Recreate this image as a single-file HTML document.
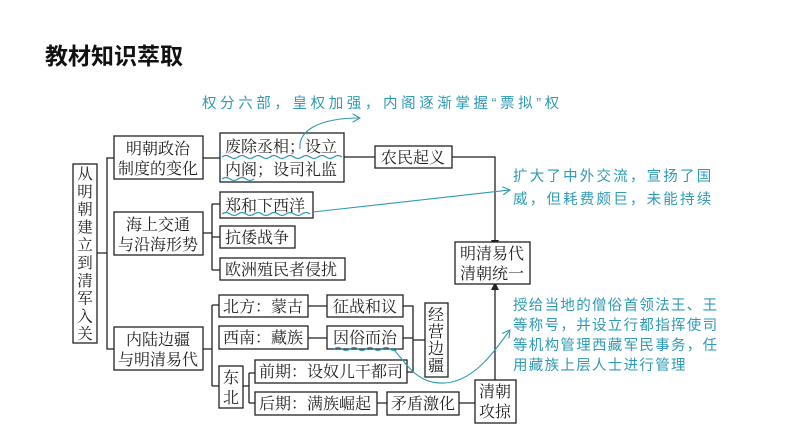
<!DOCTYPE html>
<html><head><meta charset="utf-8"><style>
html,body{margin:0;padding:0;background:#fff;}
svg{display:block;}
text{font-family:"Liberation Serif","Noto Serif CJK SC",serif;}
.b{fill:#fff;stroke:#222;stroke-width:1.3;}
.l{stroke:#222;stroke-width:1.3;fill:none;}
.t{font-size:16px;fill:#222;}
.v{font-size:15.5px;fill:#222;}
.c{font-family:"Liberation Sans","Noto Sans CJK SC",sans-serif;font-size:14.5px;fill:#2e9bb5;letter-spacing:1.3px;}
.w{stroke:#2e9bb5;stroke-width:1.1;fill:none;}
</style></head><body>
<svg width="794" height="447" viewBox="0 0 794 447" xmlns="http://www.w3.org/2000/svg">
<defs><marker id="a" markerWidth="8" markerHeight="8" refX="7" refY="4" orient="auto"><path d="M0,0 L7,4 L0,8" fill="none" stroke="#2e9bb5" stroke-width="1"/></marker></defs>
<text x="45" y="64" style="font-family:'Liberation Sans','Noto Sans CJK SC',sans-serif;font-size:23px;font-weight:bold;fill:#111">教材知识萃取</text>

<path class="l" d="M97 253H107M114 158H107V349H114M203 158H220M203 233H212M212 204V270M212 204H220M212 237H220M212 270H220M203 349H212M212 305V386M212 305H219M212 386H219M344 157H375M452 157H495V240"/>
<path class="l" d="M308 306H327M308 338H327M403 306H413V372H407M403 338H413M413 340H425M243 386H249M249 373V403M249 373H255M249 403H255M377 403H387M459 403H475M495 380V286"/>
<path d="M491 240 L495 248 L499 240Z" fill="#222"/>
<path d="M491 290 L495 282 L499 290Z" fill="#222"/>

<rect class="b" x="73" y="164" width="24" height="179"/>
<text class="v" x="85" y="179" text-anchor="middle">从</text><text class="v" x="85" y="196.8" text-anchor="middle">明</text><text class="v" x="85" y="214.6" text-anchor="middle">朝</text><text class="v" x="85" y="232.4" text-anchor="middle">建</text><text class="v" x="85" y="250.2" text-anchor="middle">立</text><text class="v" x="85" y="268" text-anchor="middle">到</text><text class="v" x="85" y="285.8" text-anchor="middle">清</text><text class="v" x="85" y="303.6" text-anchor="middle">军</text><text class="v" x="85" y="321.4" text-anchor="middle">入</text><text class="v" x="85" y="339.2" text-anchor="middle">关</text>

<rect class="b" x="114" y="136" width="89" height="43"/><text class="t" x="158" y="154" text-anchor="middle">明朝政治</text><text class="t" x="158" y="174" text-anchor="middle">制度的变化</text>
<rect class="b" x="220" y="133" width="124" height="49"/><text class="t" x="225" y="152">废除丞相；设立</text><text class="t" x="225" y="175">内阁；设司礼监</text>
<rect class="b" x="375" y="146" width="77" height="22"/><text class="t" x="413" y="163" text-anchor="middle">农民起义</text>
<rect class="b" x="455" y="242" width="75" height="42"/><text class="t" x="492" y="259" text-anchor="middle">明清易代</text><text class="t" x="492" y="279" text-anchor="middle">清朝统一</text>
<rect class="b" x="114" y="212" width="89" height="43"/><text class="t" x="158" y="230" text-anchor="middle">海上交通</text><text class="t" x="158" y="250" text-anchor="middle">与沿海形势</text>
<rect class="b" x="220" y="192" width="93" height="26"/><text class="t" x="225" y="211">郑和下西洋</text>
<rect class="b" x="220" y="226" width="75" height="22"/><text class="t" x="225" y="243">抗倭战争</text>
<rect class="b" x="220" y="258" width="125" height="22"/><text class="t" x="225" y="275">欧洲殖民者侵扰</text>
<rect class="b" x="114" y="327" width="89" height="43"/><text class="t" x="158" y="345" text-anchor="middle">内陆边疆</text><text class="t" x="158" y="365" text-anchor="middle">与明清易代</text>
<rect class="b" x="219" y="295" width="89" height="22"/><text class="t" x="223" y="312">北方：蒙古</text>
<rect class="b" x="327" y="295" width="76" height="22"/><text class="t" x="365" y="312" text-anchor="middle">征战和议</text>
<rect class="b" x="219" y="326" width="89" height="23"/><text class="t" x="223" y="343">西南：藏族</text>
<rect class="b" x="327" y="326" width="76" height="23"/><text class="t" x="365" y="343" text-anchor="middle">因俗而治</text>
<rect class="b" x="425" y="303" width="23" height="74"/><text class="t" x="436" y="320" text-anchor="middle">经</text><text class="t" x="436" y="337" text-anchor="middle">营</text><text class="t" x="436" y="354" text-anchor="middle">边</text><text class="t" x="436" y="371" text-anchor="middle">疆</text>
<rect class="b" x="219" y="366" width="24" height="42"/><text class="t" x="231" y="383" text-anchor="middle">东</text><text class="t" x="231" y="403" text-anchor="middle">北</text>
<rect class="b" x="255" y="360" width="152" height="23"/><text class="t" x="259" y="377">前期：设奴儿干都司</text>
<rect class="b" x="255" y="392" width="122" height="23"/><text class="t" x="259" y="409">后期：满族崛起</text>
<rect class="b" x="387" y="392" width="72" height="23"/><text class="t" x="423" y="409" text-anchor="middle">矛盾激化</text>
<rect class="b" x="475" y="380" width="41" height="43"/><text class="t" x="495" y="397" text-anchor="middle">清朝</text><text class="t" x="495" y="417" text-anchor="middle">攻掠</text>

<text class="c" x="202" y="108" style="letter-spacing:3.6px">权分六部，皇权加强，内阁逐渐掌握“票拟”权</text>
<path class="w" d="M300 149 C298 130 320 118 360 118" marker-end="url(#a)"/>
<path class="w" d="M222 157 q4 -3 8 0 t8 0 t8 0 t8 0 t8 0 t8 0 t8 0 t8 0 t8 0 t8 0 t8 0 t8 0 t8 0 t8 0 t8 0"/>
<path class="w" d="M222 179 q4 -3 8 0 t8 0 t8 0 t8 0"/>
<path class="w" d="M222 214 q4 -3 8 0 t8 0 t8 0 t8 0 t8 0 t8 0 t8 0 t8 0 t8 0 t8 0 t8 0"/>
<path class="w" d="M313 212 L510 190" marker-end="url(#a)"/>
<text class="c" x="513" y="181" style="letter-spacing:2.2px">扩大了中外交流，宣扬了国</text>
<text class="c" x="513" y="204" style="letter-spacing:2.2px">威，但耗费颇巨，未能持续</text>
<path class="w" d="M334 349 q4 -3 8 0 t8 0 t8 0 t8 0 t8 0 t8 0 t8 0 t8 0"/>
<path class="w" d="M392 348 C405 360 415 385 445 383 C475 381 495 350 510 330" marker-end="url(#a)"/>
<text class="c" x="513" y="310">授给当地的僧俗首领法王、王</text>
<text class="c" x="513" y="330">等称号，并设立行都指挥使司</text>
<text class="c" x="513" y="350">等机构管理西藏军民事务，任</text>
<text class="c" x="513" y="370">用藏族上层人士进行管理</text>
</svg>
</body></html>
